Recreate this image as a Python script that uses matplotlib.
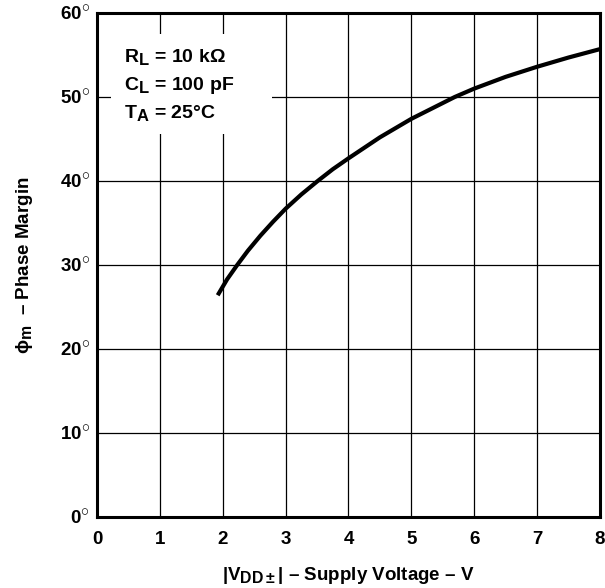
import matplotlib
matplotlib.use("Agg")
import matplotlib.pyplot as plt
import matplotlib._mathtext as _mt
from matplotlib.patches import Rectangle

_mt.SHRINK_FACTOR = 0.85

plt.rcParams['font.family'] = ['Liberation Sans', 'DejaVu Sans']
plt.rcParams['font.weight'] = 'bold'
plt.rcParams['mathtext.fontset'] = 'custom'
plt.rcParams['mathtext.rm'] = 'Liberation Sans:bold'
plt.rcParams['mathtext.it'] = 'Liberation Sans:bold'
plt.rcParams['mathtext.bf'] = 'Liberation Sans:bold'

# Data
supply_v = [1.92, 2.07, 2.23, 2.4, 2.6, 2.8, 3.0, 3.25, 3.51, 3.75, 4.0, 4.5,
            5.0, 5.69, 6.0, 6.5, 7.0, 7.5, 8.0]
phase_margin = [26.4, 28.3, 30.0, 31.7, 33.5, 35.15, 36.7, 38.4, 40.0, 41.4, 42.7, 45.2,
                47.4, 50.0, 51.0, 52.4, 53.6, 54.7, 55.7]

x_ticks = [0, 1, 2, 3, 4, 5, 6, 7, 8]
y_ticks = [0, 10, 20, 30, 40, 50, 60]
y_tick_labels = [f"{v}$\\!^\\circ$" for v in y_ticks]

fig = plt.figure(figsize=(6.05, 5.88), dpi=100)
ax = fig.add_axes([0.1603, 0.1207, 0.8314, 0.8572])

ax.set_xlim(0, 8)
ax.set_ylim(0, 60)
ax.set_xticks(x_ticks)
ax.set_yticks(y_ticks)
ax.set_yticklabels(y_tick_labels)
ax.tick_params(axis='both', length=0, labelsize=13.5, pad=5)
ax.tick_params(axis='x', pad=10)
for lbl in ax.get_xticklabels() + ax.get_yticklabels():
    lbl.set_fontweight('bold')

ax.grid(True, color='black', linewidth=0.9)
ax.set_axisbelow(True)
for s in ax.spines.values():
    s.set_linewidth(2.2)
    s.set_zorder(5)

ax.add_patch(Rectangle((0.22, 45.6), 2.56, 11.9, facecolor='white', edgecolor='none', zorder=2))

ax.plot(supply_v, phase_margin, color='black', linewidth=3.0, zorder=3,
        solid_capstyle='butt', solid_joinstyle='round')

ax.text(0.43, 55.9, "$\\mathrm{R_L}$ = 10 k\u03a9\n$\\mathrm{C_L}$ = 100 pF\n$\\mathrm{T_A}$ = 25\u00b0C",
        fontsize=14, fontweight='bold', va='top', ha='left', linespacing=1.5, zorder=4)

ax.set_xlabel("|$\\mathrm{V_{DD\\pm}}$| \u2013 Supply Voltage \u2013 V", fontsize=13.5,
              fontweight='bold', labelpad=12)
ax.set_ylabel("$\\phi_\\mathrm{m}$  \u2013 Phase Margin", fontsize=13.5, fontweight='bold', labelpad=18)

fig.savefig("out.png", dpi=100)
